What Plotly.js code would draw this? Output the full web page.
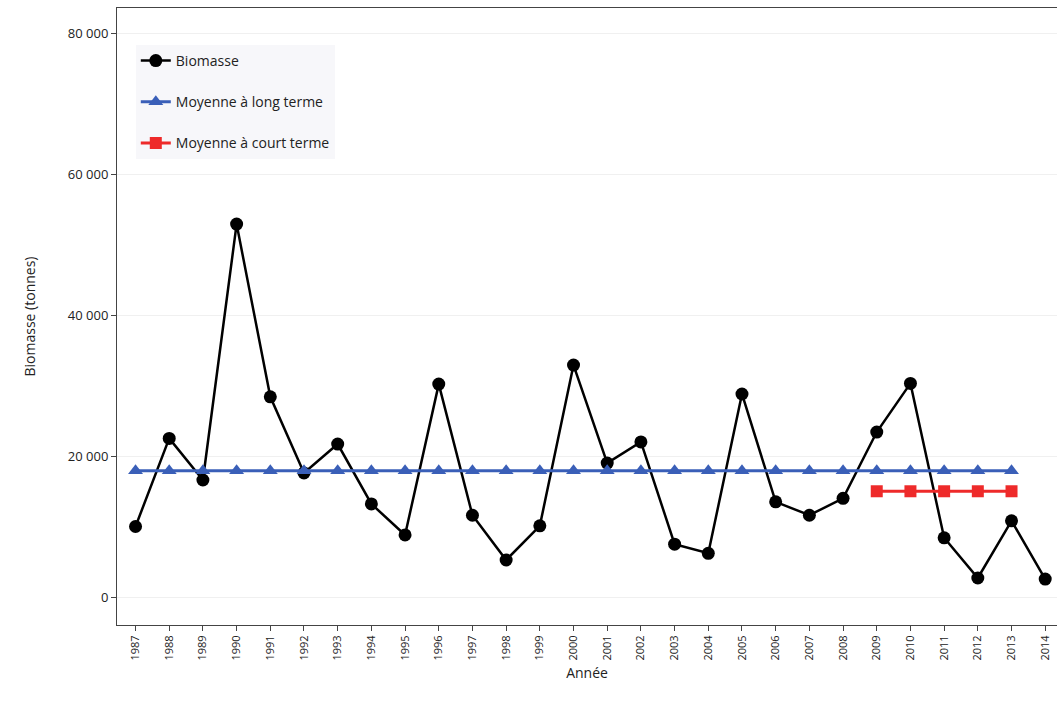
<!DOCTYPE html>
<html>
<head>
<meta charset="utf-8">
<script src="https://cdn.plot.ly/plotly-3.0.1.min.js"></script>
<style>body{margin:0;background:#fff}</style>
</head>
<body>
<div id="chart" style="width:1057px;height:707px"></div>
<script>
// Biomasse par année (tonnes)
var years = [1987, 1988, 1989, 1990, 1991, 1992, 1993, 1994, 1995, 1996, 1997, 1998, 1999, 2000,
  2001, 2002, 2003, 2004, 2005, 2006, 2007, 2008, 2009, 2010, 2011, 2012, 2013, 2014];
var biomasse = [10000, 22500, 16600, 52900, 28400, 17600, 21700, 13200, 8800, 30200, 11600, 5250, 10100, 32900,
  19000, 22000, 7500, 6200, 28800, 13500, 11600, 14000, 23400, 30300, 8400, 2700, 10800, 2550];

// Moyennes
var longYears = years.slice(0, 27);
var longMean = 17900;
var shortYears = [2009, 2010, 2011, 2012, 2013];
var shortMean = 15000;

var bio = {
  x: years,
  y: biomasse,
  name: 'Biomasse',
  legendgroup: 'a',
  mode: 'lines+markers',
  line: {color: '#000000', width: 2.5},
  marker: {color: '#000000', size: 13, symbol: 'circle'}
};

var lt = {
  x: longYears,
  y: longYears.map(function () { return longMean; }),
  name: 'Moyenne à long terme',
  legendgroup: 'b',
  mode: 'lines+markers',
  line: {color: '#3a5fb8', width: 3},
  marker: {color: '#3a5fb8', size: 13, symbol: 'triangle-up'}
};

var st = {
  x: shortYears,
  y: shortYears.map(function () { return shortMean; }),
  name: 'Moyenne à court terme',
  legendgroup: 'c',
  mode: 'lines+markers',
  line: {color: '#ee2a2a', width: 3},
  marker: {color: '#ee2a2a', size: 12, symbol: 'square'}
};

var layout = {
  font: {family: 'Open Sans, sans-serif', size: 13, color: '#222'},
  paper_bgcolor: '#ffffff',
  plot_bgcolor: '#ffffff',
  margin: {l: 117, r: 0, t: 8, b: 82},
  showlegend: true,
  legend: {x: 0.02, y: 0.94, bgcolor: 'rgba(246,246,249,0.9)', font: {size: 14}, tracegroupgap: 20},
  xaxis: {
    range: [1986.45, 2014.35],
    tickvals: years,
    ticktext: years.map(String),
    tickangle: -90,
    tickfont: {size: 11},
    ticks: 'outside', ticklen: 5,
    showgrid: false, zeroline: false,
    showline: true, linecolor: '#444', mirror: true,
    title: {text: 'Année', font: {size: 14}, standoff: 8}
  },
  yaxis: {
    range: [-3970, 83550],
    tickvals: [0, 20000, 40000, 60000, 80000],
    ticktext: ['0', '20 000', '40 000', '60 000', '80 000'],
    tickfont: {size: 13},
    ticks: 'outside', ticklen: 5,
    gridcolor: '#f0f0f0', zeroline: false,
    showline: true, linecolor: '#444', mirror: true,
    title: {text: 'Biomasse (tonnes)', font: {size: 14}, standoff: 28}
  }
};

Plotly.newPlot('chart', [bio, lt, st], layout, {displayModeBar: false});
</script>
</body>
</html>
